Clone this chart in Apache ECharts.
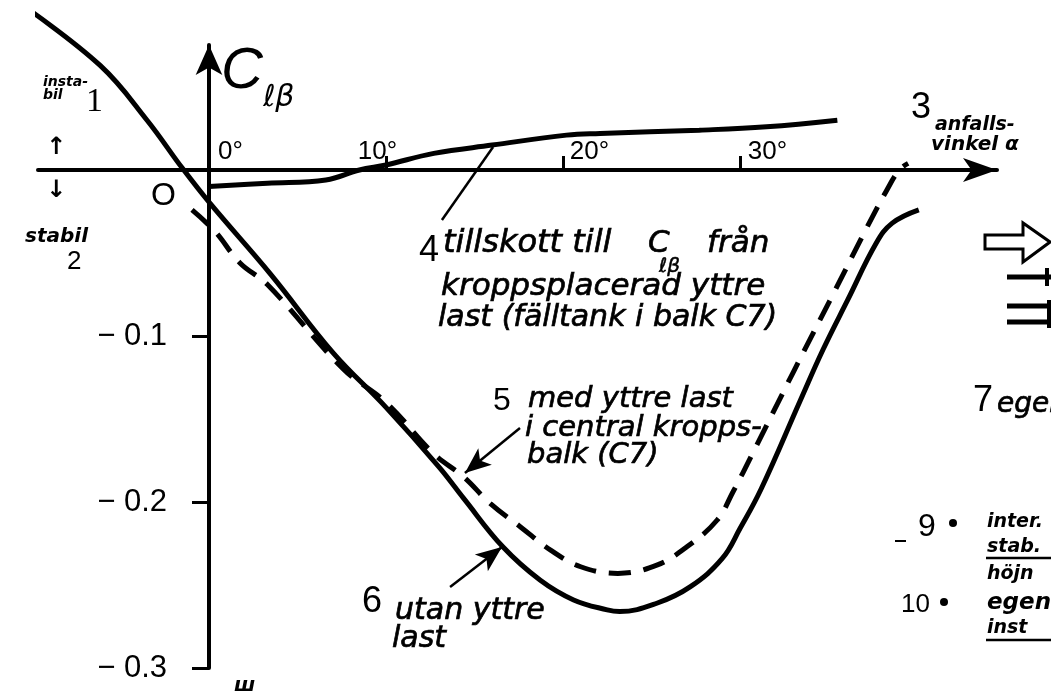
<!DOCTYPE html>
<html><head><meta charset="utf-8">
<script src="https://cdn.jsdelivr.net/npm/echarts@6/dist/echarts.min.js"></script>
<style>html,body{margin:0;padding:0;background:#fff}#c{width:1051px;height:695px}</style>
</head><body><div id="c"></div>
<script>
// anfallsvinkel alpha (deg) and C_lbeta
const alphaUtan = [-10.5, -6.15, -3.5, -1.5, 0.05, 3.5, 7.0, 10.0, 13.0, 14.4, 16.6, 18.7, 20.6, 22.5, 23.2, 25.3, 27.2, 29.0, 30.0, 31.2, 33.4, 34.7, 36.1, 37.7, 38.6, 40.1];
const clUtan    = [0.099, 0.063, 0.030, 0.001, -0.020, -0.063, -0.110, -0.143, -0.179, -0.198, -0.227, -0.247, -0.259, -0.265, -0.266, -0.261, -0.251, -0.234, -0.216, -0.192, -0.139, -0.108, -0.078, -0.044, -0.032, -0.024];

const alphaMed = [-0.96, 0.34, 1.75, 3.3, 7.6, 10.0, 12.7, 14.4, 15.9, 17.6, 19.3, 21.0, 23.1, 25.3, 27.0, 28.7, 29.6, 30.7, 33.0, 35.3, 37.2, 38.3, 39.0, 39.5];
const clMed    = [-0.024, -0.037, -0.056, -0.069, -0.120, -0.140, -0.171, -0.185, -0.201, -0.215, -0.229, -0.239, -0.243, -0.238, -0.227, -0.211, -0.194, -0.171, -0.122, -0.074, -0.034, -0.012, 0.000, 0.004];

const alphaTillskott = [0, 3.3, 6.6, 8.5, 10.0, 12.7, 16.0, 20.2, 22.1, 27.7, 31.5, 35.5];
const clTillskott    = [-0.010, -0.008, -0.006, 0.000, 0.003, 0.010, 0.015, 0.021, 0.022, 0.024, 0.026, 0.030];

const xTickValues = [10, 20, 30];
const xLabelValues = [0, 10, 20, 30];
const yTickValues = [-0.1, -0.2, -0.3];

// leader lines of the annotations, in data units: [from, to]
const leader4 = [[13.16, -0.0301], [16.05, 0.0139]];
const leader5 = [[17.57, -0.1554], [14.46, -0.1825]];
const leader6 = [[13.62, -0.2512], [16.55, -0.2271]];

const pairs = (a, c) => a.map((v, i) => [v, c[i]]);

const HAND = '"DejaVu Sans"';
const hand = (s) => 'italic ' + s + 'px ' + HAND;
const handB = (s) => 'italic bold ' + s + 'px ' + HAND;
const num = (s) => s + 'px "Liberation Sans"';

function T(x, y, text, font, thick) {
  const st = { text: text, font: font, fill: '#000', align: 'left', verticalAlign: 'middle' };
  if (thick) { st.stroke = '#000'; st.lineWidth = thick; }
  return { type: 'text', x: x, y: y, silent: true, style: st };
}
function L(x1, y1, x2, y2, w) {
  return { type: 'line', silent: true, shape: { x1: x1, y1: y1, x2: x2, y2: y2 }, style: { stroke: '#000', lineWidth: w } };
}

const graphics = [
  // left side
  T(43, 82, 'insta-', handB(14)),
  T(43, 95, 'bil', handB(14)),
  T(86, 102, '1', '34px "Liberation Serif"'),
  T(46, 148, '↑', 'bold 24px ' + HAND),
  T(46, 191, '↓', 'bold 24px ' + HAND),
  T(25, 237, 'stabil', handB(20)),
  T(67, 262, '2', num(26)),
  T(151, 196, 'O', num(32)),
  T(234, 686, 'ш', handB(20)),
  // 3
  T(911, 108, '3', num(36)),
  T(935, 125, 'anfalls-', handB(19)),
  T(931, 145, 'vinkel α', handB(20)),
  // 4
  T(419, 251, '4', num(36)),
  T(443, 244, 'tillskott till', hand(32), 0.7),
  T(648, 244, 'C', hand(31), 0.7),
  T(659, 267, 'ℓβ', hand(20), 0.5),
  T(707, 244, 'från', hand(31), 0.7),
  T(441, 287, 'kroppsplacerad yttre', hand(31), 0.7),
  T(438, 318, 'last (fälltank i balk C7)', hand(30), 0.7),
  // 5
  T(493, 401, '5', num(32)),
  T(528, 399, 'med yttre last', hand(29), 0.7),
  T(525, 428, 'i central kropps-', hand(29), 0.7),
  T(527, 455, 'balk (C7)', hand(29), 0.7),
  // 6
  T(362, 602, '6', num(36)),
  T(395, 611, 'utan yttre', hand(30), 0.7),
  T(392, 639, 'last', hand(30), 0.7),
  // right side (cut off)
  { type: 'polygon', silent: true, shape: { points: [[985, 235], [1023, 235], [1023, 223], [1050, 242], [1023, 262], [1023, 249], [985, 249]] }, style: { fill: 'none', stroke: '#000', lineWidth: 3 } },
  L(1007, 277, 1051, 277, 5), L(1047, 268, 1047, 286, 4),
  L(1007, 306, 1051, 306, 5), L(1007, 322, 1051, 322, 5), L(1049, 300, 1049, 328, 4),
  T(973, 401, '7', num(36)),
  T(997, 405, 'egen', hand(28), 0.7),
  L(895, 541, 906, 541, 2),
  T(918, 527, '9', num(32)),
  { type: 'circle', silent: true, shape: { cx: 953, cy: 523, r: 4 }, style: { fill: '#000' } },
  T(987, 522, 'inter.', handB(19)),
  T(987, 547, 'stab.', handB(19)),
  L(986, 558, 1051, 558, 2.5),
  T(987, 574, 'höjn', handB(19)),
  T(901, 605, '10', num(26)),
  { type: 'circle', silent: true, shape: { cx: 944, cy: 602, r: 4 }, style: { fill: '#000' } },
  T(987, 603, 'egen', handB(23)),
  T(987, 628, 'inst', handB(19)),
  L(986, 640, 1051, 640, 2.5)
];

const XF = { fontSize: 26, fontFamily: 'Liberation Sans', color: '#000' };
const xRich = {
  p0: Object.assign({ padding: [0, 0, 0, 43] }, XF),
  p10: Object.assign({ padding: [0, 17, 0, 0] }, XF),
  p20: Object.assign({ padding: [0, 0, 0, 53] }, XF),
  p30: Object.assign({ padding: [0, 0, 0, 55] }, XF)
};

const leaderStyle = { color: '#000', width: 2.5, type: 'solid' };

// grid spans the drawn axes; the axes are moved onto the origin with offsets
const GRID = { left: 38, right: 54, top: 45, bottom: 27 };
const ORIGIN_PX = [209, 170];

const option = {
  backgroundColor: '#fff',
  animation: false,
  grid: Object.assign({ containLabel: false, outerBoundsMode: 'none' }, GRID),
  xAxis: {
    type: 'value', min: -9.661, max: 44.52, position: 'bottom',
    offset: -((695 - GRID.bottom) - ORIGIN_PX[1]),
    axisLine: { onZero: false, symbol: ['none', 'arrow'], symbolSize: [18, 34], lineStyle: { color: '#000', width: 4 } },
    axisTick: { show: true, inside: true, length: 14, customValues: xTickValues, lineStyle: { color: '#000', width: 3 } },
    axisLabel: {
      show: true, inside: true, margin: 5, align: 'center', customValues: xLabelValues,
      formatter: (v) => '{p' + v + '|' + v + '°}', rich: xRich
    },
    splitLine: { show: false }
  },
  yAxis: {
    type: 'value', min: -0.3, max: 0.0753, position: 'left',
    offset: -(ORIGIN_PX[0] - GRID.left),
    name: '{c|C}{s|ℓβ}', nameLocation: 'end', nameGap: 2,
    nameTextStyle: {
      align: 'left', verticalAlign: 'top', padding: [0, 0, 0, 12],
      rich: {
        c: { fontSize: 58, fontStyle: 'italic', fontFamily: 'Liberation Sans', color: '#000', lineHeight: 70, verticalAlign: 'top' },
        s: { fontSize: 30, fontStyle: 'italic', fontFamily: 'DejaVu Sans', color: '#000', lineHeight: 30, verticalAlign: 'bottom' }
      }
    },
    axisLine: { onZero: false, symbol: ['none', 'arrow'], symbolSize: [20, 30], lineStyle: { color: '#000', width: 4 } },
    axisTick: { show: true, length: 17, customValues: yTickValues, lineStyle: { color: '#000', width: 3 } },
    axisLabel: {
      show: true, margin: 42, customValues: yTickValues, color: '#000',
      fontSize: 31, fontFamily: 'Liberation Sans',
      formatter: (v) => '− ' + Math.abs(v).toFixed(1)
    },
    splitLine: { show: false }
  },
  series: [
    {
      name: 'utan yttre last', type: 'line', data: pairs(alphaUtan, clUtan),
      smooth: 0.4, showSymbol: false, clip: false,
      lineStyle: { color: '#000', width: 5 },
      markLine: { silent: true, symbol: ['none', 'arrow'], symbolSize: [16, 26], label: { show: false }, lineStyle: leaderStyle,
        data: [[{ coord: leader6[0] }, { coord: leader6[1] }]] }
    },
    {
      name: 'med yttre last i central kroppsbalk (C7)', type: 'line', data: pairs(alphaMed, clMed),
      smooth: 0.4, showSymbol: false, clip: false,
      lineStyle: { color: '#000', width: 5, type: [22, 13] },
      markLine: { silent: true, symbol: ['none', 'arrow'], symbolSize: [16, 26], label: { show: false }, lineStyle: leaderStyle,
        data: [[{ coord: leader5[0] }, { coord: leader5[1] }]] }
    },
    {
      name: 'tillskott till Clβ från kroppsplacerad yttre last', type: 'line', data: pairs(alphaTillskott, clTillskott),
      smooth: 0.4, showSymbol: false, clip: false,
      lineStyle: { color: '#000', width: 5 },
      markLine: { silent: true, symbol: ['none', 'none'], label: { show: false }, lineStyle: leaderStyle,
        data: [[{ coord: leader4[0] }, { coord: leader4[1] }]] }
    }
  ],
  graphic: graphics
};

const chart = echarts.init(document.getElementById('c'), null, { renderer: 'canvas' });
chart.setOption(option);
</script>
</body></html>
